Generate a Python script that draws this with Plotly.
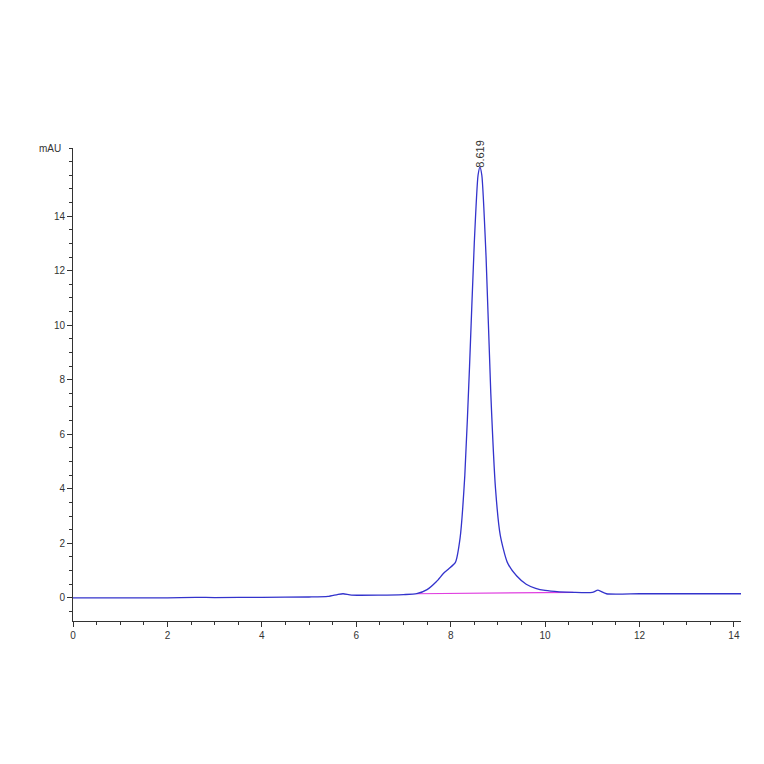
import plotly.graph_objects as go

time_min = [0, 2, 2.6, 3, 4, 5, 5.4, 5.6, 5.72, 5.9, 6.5, 7.0, 7.28, 7.5, 7.7, 7.85, 7.95, 8.1, 8.2, 8.3, 8.4, 8.5,
            8.58, 8.62, 8.66, 8.75, 8.85, 8.95, 9.05, 9.2, 9.4, 9.6, 9.8, 10.0, 10.3, 10.6, 11.0, 11.12, 11.3, 12, 13, 14.15]
signal_mau = [0, 0.0, 0.02, 0.01, 0.02, 0.03, 0.05, 0.12, 0.15, 0.1, 0.1, 0.12, 0.15, 0.3, 0.6, 0.9, 1.05, 1.3, 2.2,
              4.5, 8.5, 13.0, 15.5, 15.8, 15.5, 12.5, 7.5, 4.0, 2.3, 1.3, 0.8, 0.5, 0.35, 0.27, 0.22, 0.2, 0.2, 0.28,
              0.15, 0.15, 0.15, 0.15]
baseline_x = [7.28, 10.6]
baseline_y = [0.15, 0.2]
peak_time = 8.619
peak_label = "8.619"

fig = go.Figure()
fig.add_trace(go.Scatter(x=baseline_x, y=baseline_y, mode="lines", line=dict(color="#e040e0", width=1.2)))
fig.add_trace(go.Scatter(x=time_min, y=signal_mau, mode="lines", line=dict(color="#3333cc", width=1.3, shape="spline", smoothing=0.6)))
fig.add_annotation(x=peak_time, y=15.7, text=peak_label, textangle=-90, showarrow=False, yanchor="bottom",
                   font=dict(size=11, color="#333"))
fig.add_annotation(xref="paper", yref="paper", x=-0.015, y=1.0, text="mAU", showarrow=False, xanchor="right",
                   yanchor="middle", font=dict(size=10, color="#333"))
axis_common = dict(showgrid=False, zeroline=False, showline=True, linecolor="#333", linewidth=1, ticks="outside",
                   ticklen=5, tickcolor="#333", automargin=False,
                   tickfont=dict(size=10, color="#333", family="Liberation Sans"))
fig.update_xaxes(range=[0, 14.15], dtick=2, minor=dict(dtick=0.5, ticks="outside", ticklen=3, tickcolor="#333"), **axis_common)
fig.update_yaxes(range=[-0.85, 16.5], tickvals=[0, 2, 4, 6, 8, 10, 12, 14],
                 minor=dict(dtick=0.5, ticks="outside", ticklen=3, tickcolor="#333"), **axis_common)
fig.update_layout(width=764, height=764, margin=dict(l=65, r=31, t=140, b=151), showlegend=False,
                  plot_bgcolor="white", paper_bgcolor="white", font=dict(family="Liberation Sans"))
fig.write_html("out.html")
